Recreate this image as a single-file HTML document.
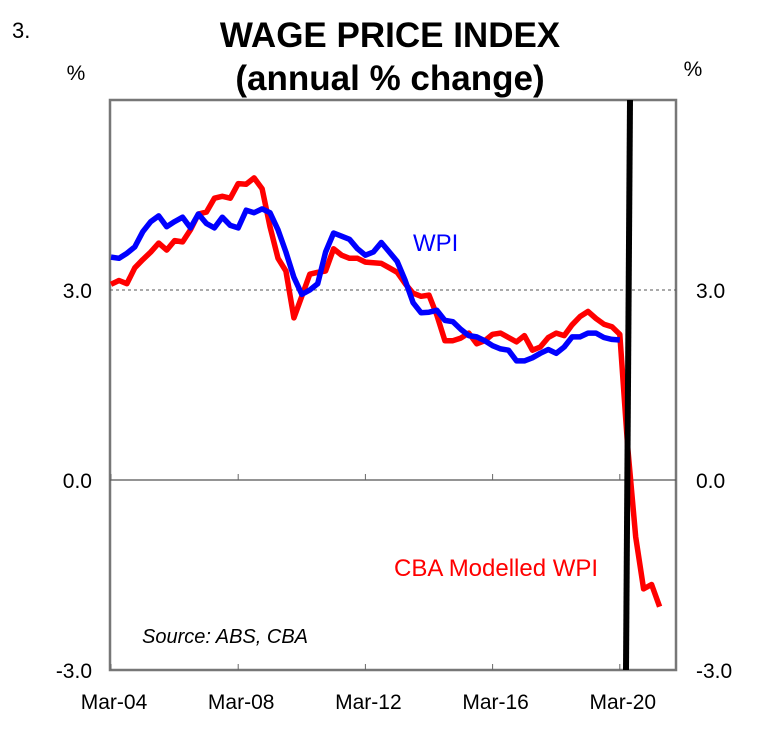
<!DOCTYPE html>
<html><head><meta charset="utf-8"><style>
body{margin:0;background:#fff;}
svg{display:block;font-family:"Liberation Sans",Arial,sans-serif;}
</style></head><body>
<svg id="chart" width="776" height="736">
<text x="12" y="38" font-size="22">3.</text>
<text x="390" y="47" font-size="35" font-weight="bold" text-anchor="middle">WAGE PRICE INDEX</text>
<text x="390" y="90" font-size="35" font-weight="bold" text-anchor="middle">(annual % change)</text>
<text x="76" y="80" font-size="21" text-anchor="middle">%</text>
<text x="693" y="76" font-size="21" text-anchor="middle">%</text>
<rect x="110" y="100" width="566" height="570" fill="none" stroke="#777" stroke-width="2.5"/>
<g id="grid"></g>
<g id="series"></g>
<line x1="630" y1="100" x2="626" y2="670" stroke="#000" stroke-width="6"/>
<text x="413" y="251" font-size="24" fill="#0000ff">WPI</text>
<text x="394" y="576" font-size="24" fill="#ff0000">CBA Modelled WPI</text>
<text x="142" y="643" font-size="20" font-style="italic">Source: ABS, CBA</text>
<g id="axes"></g>
</svg>
<script>
const yTicks = [-3, 0, 3];
const yTickLabels = ["-3.0", "0.0", "3.0"];
const xTickIdx = [0, 16, 32, 48, 64];
const xTickLabels = ["Mar-04", "Mar-08", "Mar-12", "Mar-16", "Mar-20"];
const wpi = [3.52,3.50,3.58,3.68,3.92,4.08,4.17,4.0,4.08,4.15,3.98,4.2,4.05,3.98,4.15,4.02,3.98,4.26,4.22,4.28,4.22,3.95,3.6,3.2,2.93,3.0,3.1,3.6,3.9,3.85,3.8,3.65,3.55,3.6,3.75,3.6,3.45,3.15,2.8,2.64,2.65,2.68,2.52,2.5,2.38,2.28,2.26,2.2,2.12,2.07,2.05,1.88,1.88,1.93,2.0,2.06,2.0,2.1,2.26,2.26,2.32,2.32,2.25,2.22,2.21];
const cbaWpi = [3.09,3.15,3.1,3.35,3.48,3.6,3.74,3.63,3.78,3.76,3.95,4.2,4.23,4.45,4.48,4.45,4.68,4.67,4.77,4.6,4.0,3.5,3.3,2.56,2.9,3.25,3.28,3.3,3.65,3.55,3.5,3.5,3.44,3.43,3.42,3.35,3.28,3.1,2.95,2.9,2.92,2.6,2.2,2.2,2.24,2.32,2.15,2.2,2.3,2.32,2.25,2.18,2.28,2.05,2.1,2.25,2.32,2.28,2.45,2.58,2.66,2.55,2.46,2.42,2.3,0.5,-0.9,-1.72,-1.65,-2.0];

const X0=111, XSTEP=7.95, Y0=480, YU=63.33;
const xs = i => X0 + i*XSTEP;
const ys = v => Y0 - v*YU;
const NS="http://www.w3.org/2000/svg";
const grid=document.getElementById('grid'), series=document.getElementById('series'), axes=document.getElementById('axes');
function mk(tag, attrs, parent){const e=document.createElementNS(NS,tag);for(const k in attrs)e.setAttribute(k,attrs[k]);parent.appendChild(e);return e;}

let l3=mk('line',{x1:110,x2:676,y1:ys(3),y2:ys(3),stroke:'#555','stroke-dasharray':'3,3','stroke-width':1},grid);


let l0=mk('line',{x1:110,x2:676,y1:ys(0),y2:ys(0),stroke:'#555','stroke-width':1.3},grid);



yTicks.forEach((v,k)=>{
  let t=mk('text',{x:92,y:ys(v)+8,'font-size':21,'text-anchor':'end'},axes);t.textContent=yTickLabels[k];
  
  
  let r=mk('text',{x:696,y:ys(v)+8,'font-size':21},axes);r.textContent=yTickLabels[k];
  
  
});
xTickIdx.forEach((i,k)=>{
  let tk=mk('line',{x1:xs(i),x2:xs(i),y1:670,y2:664,stroke:'#666'},axes);
  
  
  let tk2=mk('line',{x1:xs(i),x2:xs(i),y1:ys(0),y2:ys(0)-6,stroke:'#666'},axes);
  
  
  let t=mk('text',{x:xs(i)+3,y:709,'font-size':21,'text-anchor':'middle'},axes);t.textContent=xTickLabels[k];
  
  
});
function line(data,color,name){
  const d=data.map((v,i)=>(i?'L':'M')+xs(i).toFixed(1)+' '+ys(v).toFixed(1)).join(' ');
  let p=mk('path',{d:d,fill:'none',stroke:color,'stroke-width':5.5,'stroke-linejoin':'round'},series);
  
  
}
line(cbaWpi,'#ff0000','cba-modelled-wpi-line');
line(wpi,'#0000ff','wpi-line');
</script>
</body></html>
